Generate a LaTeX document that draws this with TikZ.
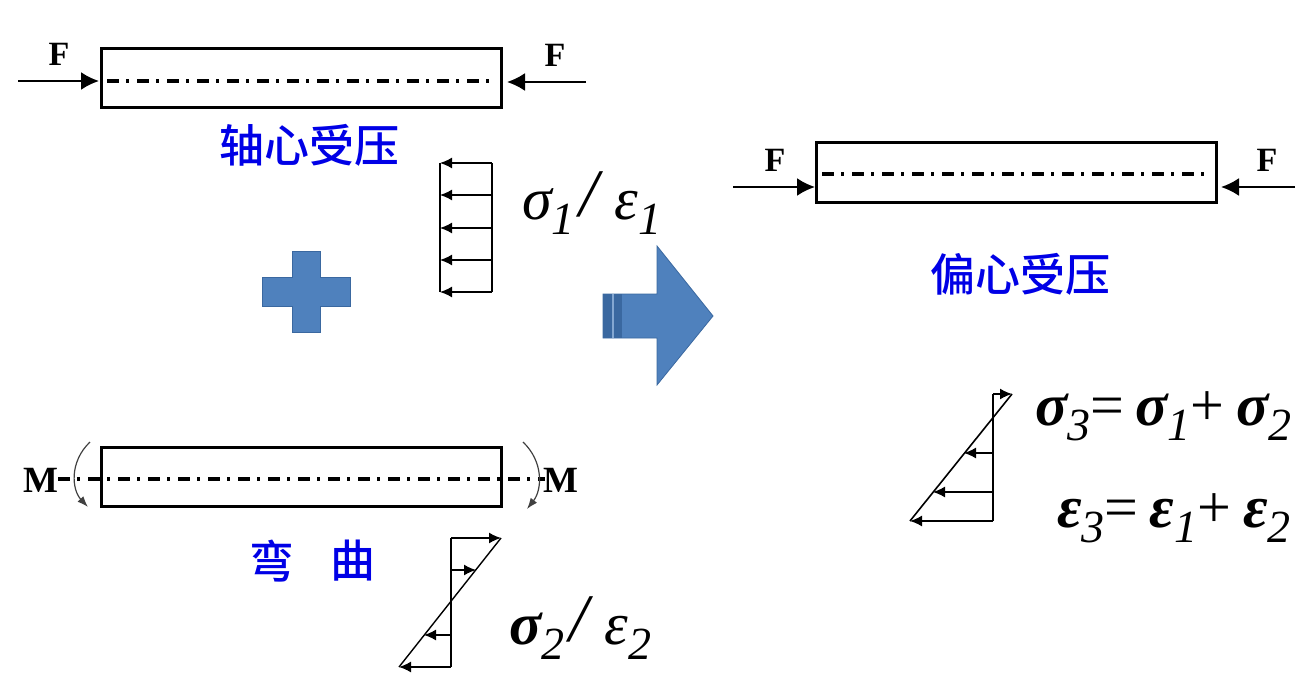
\documentclass[tikz,border=0pt]{standalone}
\usepackage{fontspec}
\setmainfont{Liberation Serif}
\newfontfamily\cjkfont{Noto Sans CJK SC}[BoldFont={Noto Sans CJK SC Medium}]
\usetikzlibrary{arrows.meta}

\newcommand{\symterm}[2]{{\bfseries\itshape #1}\raisebox{-0.25em}{\fontsize{46}{46}\selectfont\itshape #2}}
\newcommand{\thinterm}[2]{{\itshape #1}\raisebox{-0.25em}{\fontsize{46}{46}\selectfont\itshape #2}}
\newcommand{\bigslash}{\kern5pt\raisebox{0.04em}{\fontsize{68}{68}\selectfont\itshape /}\kern16pt}
\newcommand{\tighteq}{\kern0pt=\kern11pt}
\newcommand{\tightplus}{\kern0pt+\kern12pt}

\begin{document}
\begin{tikzpicture}[x=1pt, y=-1pt]

\definecolor{blockblue}{RGB}{79, 129, 189}
\definecolor{stripeblue}{RGB}{58, 104, 160}
\definecolor{titleblue}{RGB}{0, 0, 230}

\tikzset{
    beam/.style={
        draw=black, line width=3pt, fill=white,
        minimum width=400pt, minimum height=59pt, inner sep=0pt
    },
    axis line/.style={
        draw=black, line width=3.4pt, dash pattern=on 12pt off 7pt on 3pt off 8pt
    },
    force/.style={
        -{Latex[length=18pt, width=18pt]}, draw=black, line width=2.2pt
    },
    stress/.style={
        -{Latex[length=12pt, width=11pt]}, draw=black, line width=1.4pt
    },
    moment/.style={
        -{Latex[length=11pt, width=8pt]}, draw=black!75, line width=1.2pt
    },
    letter/.style={
        font=\bfseries\fontsize{34}{34}\selectfont, inner sep=0pt
    },
    caption/.style={
        text=titleblue, font=\cjkfont\bfseries\fontsize{45}{45}\selectfont, inner sep=0pt
    },
    formula/.style={
        font=\fontsize{60}{60}\selectfont, inner sep=0pt, anchor=base west
    },
    block/.style={
        fill=blockblue, draw=stripeblue, line width=0.8pt
    }
}

\useasboundingbox (0,0) rectangle (1309,674);

% Axial compression
\coordinate (A1) at (18,81);
\coordinate (A2) at (99,81);
\coordinate (A3) at (586,82);
\coordinate (A4) at (507,82);
\coordinate (A5) at (107,81);
\coordinate (A6) at (494,81);
\node[beam] (beamA) at (301,78.5) {};
\draw[axis line] (A5) -- (A6);
\draw[force] (A1) -- (A2);
\draw[force] (A3) -- (A4);
\node[letter] (FA1) at (59,54) {F};
\node[letter] (FA2) at (555,55) {F};
\node[caption] (capA) at (309,145) {轴心受压};

% Uniform stress block
\coordinate (S1a) at (492,163);
\coordinate (S1b) at (492,195);
\coordinate (S1c) at (492,228);
\coordinate (S1d) at (492,260);
\coordinate (S1e) at (492,292);
\coordinate (T1a) at (440,163);
\coordinate (T1b) at (440,195);
\coordinate (T1c) at (440,228);
\coordinate (T1d) at (440,260);
\coordinate (T1e) at (440,292);
\draw[line width=1.4pt] (S1a) -- (S1e);
\draw[line width=1.4pt] (T1a) -- (T1e);
\draw[stress] (S1a) -- (T1a);
\draw[stress] (S1b) -- (T1b);
\draw[stress] (S1c) -- (T1c);
\draw[stress] (S1d) -- (T1d);
\draw[stress] (S1e) -- (T1e);
\node[formula] (labA) at (522,219) {\thinterm{σ}{1}\bigslash\thinterm{ε}{1}};

% Plus sign
\path[block] (292,251) -- (320,251) -- (320,277) -- (350,277) -- (350,306) -- (320,306)
    -- (320,332) -- (292,332) -- (292,306) -- (262,306) -- (262,277) -- (292,277) -- cycle;

% Block arrow
\path[block] (603,294) -- (657,294) -- (657,246) -- (713,316) -- (657,385) -- (657,338) -- (603,338) -- cycle;
\fill[stripeblue] (603,294) rectangle (622,338);
\fill[blockblue!70!white] (612,294) rectangle (614,338);

% Bending
\coordinate (B1) at (58,479);
\coordinate (B2) at (545,479);
\coordinate (B3) at (90,442);
\coordinate (B4) at (88,507);
\coordinate (B5) at (523,442);
\coordinate (B6) at (527,509);
\draw[axis line] (B1) -- (B2);
\node[beam, fill=none] (beamB) at (301,476.5) {};
\draw[moment] (B3) .. controls (69,462) and (72,490) .. (B4);
\draw[moment] (B5) .. controls (544,462) and (542,490) .. (B6);
\node[letter, font=\bfseries\fontsize{37}{37}\selectfont] (MB1) at (41,480) {M};
\node[letter, font=\bfseries\fontsize{37}{37}\selectfont] (MB2) at (561,480) {M};
\node[caption] (capB1) at (272,561) {弯};
\node[caption] (capB2) at (353,561) {曲};

% Bending stress block
\coordinate (S2a) at (451,538);
\coordinate (S2b) at (451,570);
\coordinate (S2c) at (451,635);
\coordinate (S2d) at (451,667);
\coordinate (T2a) at (501,538);
\coordinate (T2b) at (476,570);
\coordinate (T2c) at (424,635);
\coordinate (T2d) at (399,667);
\draw[line width=1.4pt] (S2a) -- (S2d);
\draw[line width=1.4pt] (T2a) -- (T2d);
\draw[stress] (S2a) -- (T2a);
\draw[stress] (S2b) -- (T2b);
\draw[stress] (S2c) -- (T2c);
\draw[stress] (S2d) -- (T2d);
\node[formula] (labB) at (509,644) {\symterm{σ}{2}\bigslash\thinterm{ε}{2}};

% Eccentric compression
\coordinate (C1) at (733,187);
\coordinate (C2) at (815,187);
\coordinate (C3) at (1295,187);
\coordinate (C4) at (1221,187);
\coordinate (C5) at (822,174);
\coordinate (C6) at (1211,174);
\node[beam] (beamC) at (1016.5,172.5) {};
\draw[axis line] (C5) -- (C6);
\draw[force] (C1) -- (C2);
\draw[force] (C3) -- (C4);
\node[letter] (FC1) at (775,160) {F};
\node[letter] (FC2) at (1267,160) {F};
\node[caption] (capC) at (1020,274) {偏心受压};

% Combined stress block
\coordinate (S3a) at (993,394);
\coordinate (S3b) at (993,453);
\coordinate (S3c) at (993,492);
\coordinate (S3d) at (993,521);
\coordinate (T3a) at (1012,394);
\coordinate (T3b) at (964,453);
\coordinate (T3c) at (933,492);
\coordinate (T3d) at (910,521);
\draw[line width=1.6pt] (S3a) -- (S3d);
\draw[line width=1.6pt] (T3a) -- (T3d);
\draw[stress] (S3a) -- (T3a);
\draw[stress] (S3b) -- (T3b);
\draw[stress] (S3c) -- (T3c);
\draw[stress] (S3d) -- (T3d);
\node[formula] (labC) at (1035,425) {\symterm{σ}{3}\tighteq\symterm{σ}{1}\tightplus\symterm{σ}{2}};
\node[formula] (labD) at (1057,527) {\symterm{ε}{3}\tighteq\symterm{ε}{1}\tightplus\symterm{ε}{2}};

\end{tikzpicture}
\end{document}
